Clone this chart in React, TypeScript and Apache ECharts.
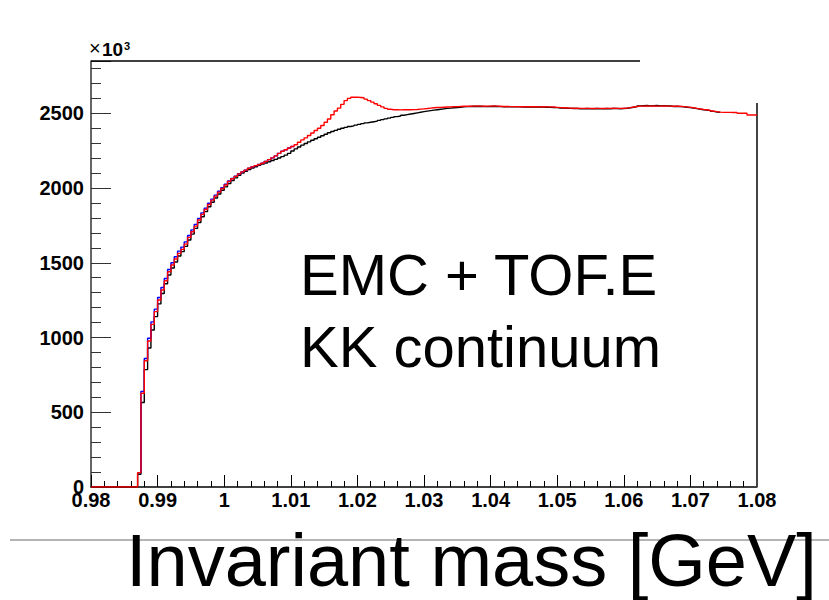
import React, { useEffect, useRef } from "react";
import * as echarts from "echarts";

// Histogram binning (GeV)
const binStart = 0.98;
const binWidth = 0.0005;

// Red histogram (with phi peak), bins from 0.980
const redCounts = [
  0, 0, 0, 0, 0, 0, 0, 0, 0, 0, 0, 0, 0, 0,
  96, 627, 845, 977, 1088, 1173, 1251, 1318, 1380, 1440,
  1485, 1525, 1563, 1590, 1625, 1670, 1708, 1745, 1786, 1824,
  1857, 1890, 1919, 1946, 1973, 1997, 2020,
  2045, 2062, 2078, 2095, 2108, 2120, 2132, 2142, 2150, 2158,
  2166, 2178, 2190, 2202, 2215, 2232, 2246, 2256, 2268, 2278,
  2290, 2306, 2322, 2336, 2352, 2368, 2385, 2400, 2418, 2440,
  2462, 2490, 2515, 2535, 2560, 2585, 2600, 2607, 2608, 2606,
  2604, 2595, 2585, 2575, 2564, 2553, 2543, 2533, 2527, 2524,
  2524, 2523, 2524, 2525, 2524, 2525, 2526, 2528, 2530, 2532,
  2535, 2537, 2539, 2540, 2541, 2542, 2543, 2544, 2545, 2546,
  2547, 2548, 2547, 2548, 2549, 2548, 2547, 2548, 2548, 2549,
  2548, 2547, 2546, 2546, 2545, 2545, 2545, 2544, 2544, 2544,
  2544, 2544, 2544, 2543, 2544, 2543, 2543, 2542, 2540, 2538,
  2537, 2536, 2535, 2534, 2534, 2533, 2533, 2533, 2533, 2532,
  2533, 2533, 2532, 2533, 2533, 2534, 2533, 2533, 2534, 2535,
  2538, 2542, 2546, 2548, 2548, 2549, 2548, 2549, 2548, 2548,
  2549, 2548, 2548, 2547, 2548, 2547, 2545, 2543, 2540, 2537,
  2533, 2529, 2526, 2524, 2520, 2515, 2511, 2508, 2506, 2506,
  2506, 2505, 2506, 2500, 2500, 2500, 2489, 2489, 2489,
];

// Black histogram (KK continuum), bins from 0.980, ends at 1.0745
const blackCounts = [
  0, 0, 0, 0, 0, 0, 0, 0, 0, 0, 0, 0, 0, 0,
  85, 565, 785, 930, 1050, 1140, 1225, 1295, 1360, 1418,
  1465, 1505, 1545, 1575, 1610, 1652, 1692, 1730, 1770, 1808,
  1842, 1875, 1905, 1933, 1960, 1985, 2008,
  2030, 2050, 2068, 2085, 2100, 2112, 2124, 2134, 2143, 2152,
  2160, 2168, 2176, 2184, 2192, 2201, 2210, 2220, 2232, 2248,
  2262, 2275, 2287, 2298, 2309, 2320, 2330, 2340, 2350, 2360,
  2370, 2378, 2386, 2393, 2400, 2406, 2412, 2416, 2421, 2426,
  2431, 2436, 2440, 2444, 2448, 2453, 2458, 2463, 2468, 2473,
  2478, 2482, 2487, 2491, 2495, 2499, 2503, 2507, 2511, 2515,
  2518, 2521, 2524, 2527, 2530, 2533, 2535, 2537, 2539, 2541,
  2543, 2545, 2546, 2547, 2546, 2547, 2546, 2545, 2546, 2547,
  2546, 2545, 2544, 2545, 2544, 2543, 2544, 2543, 2542, 2543,
  2542, 2543, 2542, 2543, 2542, 2541, 2540, 2539, 2538, 2536,
  2535, 2534, 2533, 2532, 2532, 2531, 2531, 2532, 2531, 2531,
  2532, 2531, 2531, 2532, 2531, 2532, 2532, 2531, 2532, 2534,
  2537, 2541, 2545, 2550, 2551, 2552, 2550, 2551, 2552, 2550,
  2551, 2550, 2549, 2546, 2547, 2545, 2544, 2541, 2539, 2535,
  2531, 2527, 2524, 2522, 2518, 2513, 2509, 2506,
];

// Blue histogram (threshold region), first bin index 14 (0.987)
const blueStartBin = 14;
const blueCounts = [
  96, 640, 860, 995, 1105, 1190, 1268, 1335, 1395, 1455,
  1500, 1540, 1578, 1605, 1640, 1683, 1720, 1757, 1797, 1834,
  1866, 1898, 1926, 1953, 1979, 2003, 2025, 2048, 2064, 2080,
  2096, 2108, 2120, 2132, 2142, 2150, 2158, 2166, 2178, 2190,
  2202, 2215, 2232, 2246, 2256, 2268, 2278,
];

const yMajorTickLabels = [0, 500, 1000, 1500, 2000, 2500];
const xMin = 0.98;
const xMax = 1.08;
const xStep = 0.01;
const yMin = 0;
const yMax = 2850;

function histPoints(counts: number[], startBin: number) {
  const pts: number[][] = [];
  counts.forEach((v, k) => {
    pts.push([+(binStart + binWidth * (startBin + k)).toFixed(5), v]);
  });
  pts.push([
    +(binStart + binWidth * (startBin + counts.length)).toFixed(5),
    counts[counts.length - 1],
  ]);
  return pts;
}

const FONT = "'Liberation Sans', Arial, Helvetica, sans-serif";

export default function App() {
  const ref = useRef<HTMLDivElement>(null);
  useEffect(() => {
    if (!ref.current) return;
    const chart = echarts.init(ref.current, undefined, { renderer: "svg" });
    const option: any = {
      animation: false,
      backgroundColor: "#ffffff",
      grid: { left: 91, right: 72, top: 61, bottom: 113, containLabel: false },
      xAxis: {
        type: "value",
        min: xMin,
        max: xMax,
        interval: xStep,
        axisLine: { show: true, lineStyle: { color: "#000", width: 1.5 } },
        axisTick: { show: true, inside: true, length: 12, lineStyle: { color: "#000", width: 1 } },
        minorTick: { show: true, splitNumber: 5, length: 6, lineStyle: { color: "#000", width: 1 } },
        splitLine: { show: false },
        minorSplitLine: { show: false },
        axisLabel: {
          color: "#000",
          fontSize: 20,
          fontWeight: "bold",
          fontFamily: FONT,
          margin: 3,
        },
      },
      yAxis: [
        {
          type: "value",
          min: yMin,
          max: yMax,
          interval: 100,
          position: "left",
          axisLine: { show: true, lineStyle: { color: "#333", width: 1.5 } },
          axisTick: { show: true, inside: true, length: 10, lineStyle: { color: "#333", width: 1 } },
          splitLine: { show: false },
          axisLabel: {
            color: "#000",
            fontSize: 20,
            fontWeight: "bold",
            fontFamily: FONT,
            margin: 7,
            formatter: (v: number) => (yMajorTickLabels.includes(v) ? String(v) : ""),
          },
        },
        {
          type: "value",
          min: yMin,
          max: yMax,
          interval: 500,
          position: "left",
          offset: 0,
          axisLine: { show: false },
          axisTick: { show: true, inside: true, length: 20, lineStyle: { color: "#333", width: 1 } },
          splitLine: { show: false },
          axisLabel: { show: false },
        },
      ],
      series: [
        {
          type: "line",
          name: "black",
          step: "end",
          showSymbol: false,
          symbol: "none",
          data: histPoints(blackCounts, 0),
          lineStyle: { color: "#000", width: 1.4 },
          z: 2,
        },
        {
          type: "line",
          name: "blue",
          step: "end",
          showSymbol: false,
          symbol: "none",
          data: histPoints(blueCounts, blueStartBin),
          lineStyle: { color: "#0000ff", width: 1.4 },
          z: 3,
        },
        {
          type: "line",
          name: "red",
          step: "end",
          showSymbol: false,
          symbol: "none",
          data: histPoints(redCounts, 0),
          lineStyle: { color: "#ff0000", width: 1.4 },
          z: 4,
        },
      ],
      graphic: [
        {
          type: "line",
          z: 1,
          shape: { x1: 91, y1: 61, x2: 640, y2: 61 },
          style: { stroke: "#000", lineWidth: 1.5 },
        },
        {
          type: "line",
          z: 1,
          shape: { x1: 757, y1: 103, x2: 757, y2: 487 },
          style: { stroke: "#444", lineWidth: 2 },
        },
        {
          type: "line",
          z: 1,
          shape: { x1: 10, y1: 540, x2: 829, y2: 540 },
          style: { stroke: "#b4b4b4", lineWidth: 2 },
        },
        {
          type: "text",
          z: 5,
          x: 89,
          y: 58,
          style: { text: "×", fontSize: 20, fontFamily: FONT, fill: "#000", verticalAlign: "bottom" },
        },
        {
          type: "text",
          z: 5,
          x: 102,
          y: 59,
          style: { text: "10", fontSize: 19, fontWeight: "bold", fontFamily: FONT, fill: "#000", verticalAlign: "bottom" },
        },
        {
          type: "text",
          z: 5,
          x: 124,
          y: 40,
          style: { text: "3", fontSize: 11, fontWeight: "bold", fontFamily: FONT, fill: "#000", verticalAlign: "top" },
        },
        {
          type: "text",
          z: 5,
          x: 300,
          y: 274,
          style: { text: "EMC + TOF.E", fontSize: 58, fontFamily: FONT, fill: "#000", verticalAlign: "middle" },
        },
        {
          type: "text",
          z: 5,
          x: 300,
          y: 346,
          style: { text: "KK continuum", fontSize: 58, fontFamily: FONT, fill: "#000", verticalAlign: "middle" },
        },
        {
          type: "text",
          z: 5,
          x: 126,
          y: 560,
          style: {
            text: "Invariant mass [GeV]",
            fontSize: 74,
            lineHeight: 74,
            fontFamily: FONT,
            fill: "#000",
            verticalAlign: "middle",
          },
        },
      ],
    };
    chart.setOption(option);
    return () => chart.dispose();
  }, []);
  return (
    <div
      ref={ref}
      style={{ position: "fixed", left: 0, top: 0, width: 829, height: 600, background: "#fff" }}
    />
  );
}
